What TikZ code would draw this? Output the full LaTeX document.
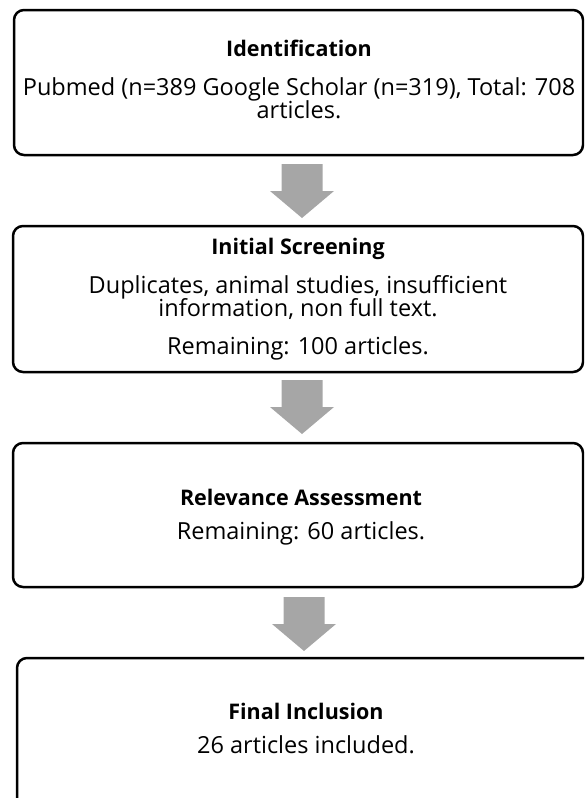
\documentclass[tikz,border=0pt]{standalone}
\usepackage{fontspec}
\setmainfont{Open Sans}
\definecolor{arrowgray}{RGB}{166,166,166}
\begin{document}
\begin{tikzpicture}[x=1pt,y=-1pt,
  stagebox/.style={draw=black, line width=2.5pt, rounded corners=10pt, rectangle, inner sep=0pt},
  ttl/.style={anchor=base, inner sep=0pt, font=\fontsize{21.5}{25}\selectfont\bfseries},
  body/.style={anchor=base, inner sep=0pt, font=\fontsize{23.5}{27}\selectfont},
  blockarrow/.pic={\fill[arrowgray] (-20.5,0) -- (20.5,0) -- (20.5,27) -- (32,27) -- (0,54) -- (-32,27) -- (-20.5,27) -- cycle;}]
\useasboundingbox (0,0) rectangle (584,798);
\clip (0,0) rectangle (584,798);
% boxes
\node[stagebox, minimum width=569pt, minimum height=145pt] (b1) at (298.5,82.5) {};
\node[stagebox, minimum width=570pt, minimum height=146pt] (b2) at (298,299) {};
\node[stagebox, minimum width=570pt, minimum height=144pt] (b3) at (298,515) {};
\node[stagebox, minimum width=583pt, minimum height=162pt] (b4) at (308.5,739) {};
% arrows
\pic at (302,164) {blockarrow};
\pic at (302,380) {blockarrow};
\pic at (304,597) {blockarrow};
% texts
\node[ttl] (t1) at (299,56.5) {Identification};
\node[body] (t1a) at (299,95) {Pubmed (n=389 Google Scholar (n=319), Total: 708};
\node[body] (t1b) at (299,118) {articles.};
\node[ttl] (t2) at (298,254) {Initial Screening};
\node[body] (t2a) at (298,293) {Duplicates, animal studies, insufficient};
\node[body] (t2b) at (298,316) {information, non full text.};
\node[body] (t2c) at (298,354) {Remaining: 100 articles.};
\node[ttl] (t3) at (301,505) {Relevance Assessment};
\node[body] (t3a) at (301,539) {Remaining: 60 articles.};
\node[ttl] (t4) at (306,719) {Final Inclusion};
\node[body] (t4a) at (306,753) {26 articles included.};
\end{tikzpicture}
\end{document}
